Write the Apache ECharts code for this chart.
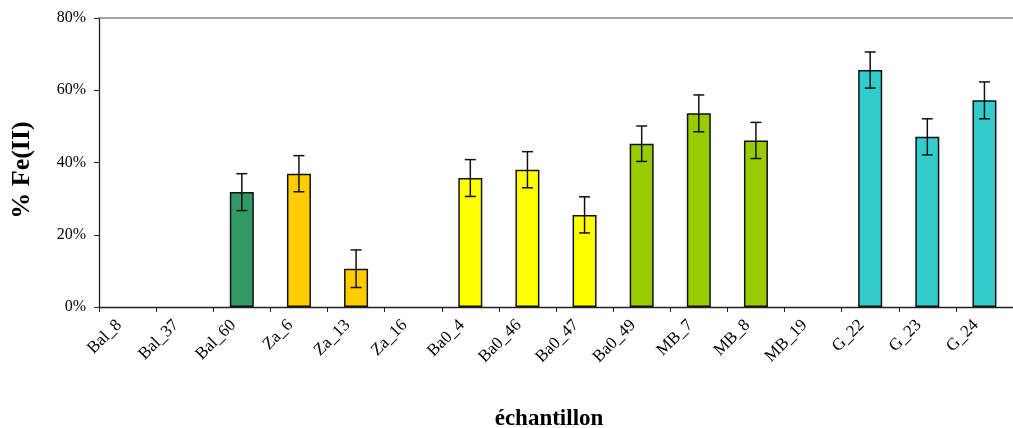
<!DOCTYPE html>
<html>
<head>
<meta charset="utf-8">
<script src="https://cdn.jsdelivr.net/npm/echarts@6/dist/echarts.min.js"></script>
<style>
html,body{margin:0;padding:0;background:#fff;overflow:hidden;}
#chart{width:1013px;height:428px;}
</style>
</head>
<body>
<div id="chart"></div>
<script>
const categories = ['Bal_8','Bal_37','Bal_60','Za_6','Za_13','Za_16','Ba0_4','Ba0_46','Ba0_47','Ba0_49','MB_7','MB_8','MB_19','G_22','G_23','G_24'];
const values = [null, null, 31.8, 36.9, 10.6, null, 35.7, 38.0, 25.5, 45.2, 53.6, 46.1, null, 65.6, 47.1, 57.2];
const errors = [null, null, 5.1, 5.0, 5.2, null, 5.1, 5.0, 5.0, 4.9, 5.1, 5.0, null, 5.0, 5.0, 5.1];
const barColors = ['#339966','#339966','#339966','#FFCC00','#FFCC00','#FFCC00','#FFFF00','#FFFF00','#FFFF00','#99CC00','#99CC00','#99CC00','#99CC00','#33CCCC','#33CCCC','#33CCCC'];
const yTicks = [0, 20, 40, 60, 80];
const yTitle = '% Fe(II)';
const xTitle = 'échantillon';

const FONT = '"Liberation Serif", "Times New Roman", serif';

const barData = values.map((v, i) => v == null ? null : { value: v, itemStyle: { color: barColors[i] } });
const errData = [];
values.forEach((v, i) => { if (v != null) errData.push([i, v - errors[i], v + errors[i]]); });

const chart = echarts.init(document.getElementById('chart'), null, { renderer: 'canvas' });
chart.setOption({
  animation: false,
  backgroundColor: '#fff',
  grid: { left: 99, top: 18, width: 922, height: 289, containLabel: false },
  xAxis: [{
    type: 'category',
    data: categories,
    position: 'bottom',
    axisLine: { lineStyle: { color: '#222', width: 1.3 } },
    axisTick: { show: true, alignWithLabel: false, length: 5, lineStyle: { color: '#222' } },
    axisLabel: { rotate: 45, interval: 0, margin: 7, fontSize: 17, fontFamily: FONT, color: '#000', padding: [0, 12, 0, 0] },
    splitLine: { show: false }
  }, {
    type: 'category',
    data: categories,
    position: 'top',
    axisLine: { lineStyle: { color: '#888', width: 1.5 } },
    axisTick: { show: false },
    axisLabel: { show: false },
    splitLine: { show: false }
  }],
  yAxis: {
    type: 'value',
    min: yTicks[0],
    max: yTicks[yTicks.length - 1],
    interval: yTicks[1] - yTicks[0],
    axisLine: { show: true, lineStyle: { color: '#222', width: 1.3 } },
    axisTick: { show: true, length: 5, lineStyle: { color: '#222' } },
    axisLabel: { formatter: '{value}%', fontSize: 16, fontFamily: FONT, color: '#000', margin: 13 },
    splitLine: { show: false }
  },
  series: [{
    type: 'bar',
    data: barData,
    barWidth: '42%',
    itemStyle: { borderColor: '#111', borderWidth: 1.5 }
  }, {
    type: 'custom',
    data: errData,
    z: 5,
    renderItem: function (params, api) {
      const x = api.value(0);
      const lo = api.coord([x, api.value(1)]);
      const hi = api.coord([x, api.value(2)]);
      const hw = 5.5;
      const st = { stroke: '#111', lineWidth: 1.5 };
      return {
        type: 'group',
        children: [
          { type: 'line', shape: { x1: lo[0], y1: lo[1], x2: hi[0], y2: hi[1] }, style: st },
          { type: 'line', shape: { x1: hi[0] - hw, y1: hi[1], x2: hi[0] + hw, y2: hi[1] }, style: st },
          { type: 'line', shape: { x1: lo[0] - hw, y1: lo[1], x2: lo[0] + hw, y2: lo[1] }, style: st }
        ]
      };
    }
  }],
  graphic: [{
    type: 'text',
    x: 22, y: 170,
    rotation: Math.PI / 2,
    style: { text: yTitle, font: 'bold 26px ' + FONT, fill: '#000', textAlign: 'center', textVerticalAlign: 'middle' }
  }, {
    type: 'text',
    x: 549, y: 419,
    style: { text: xTitle, font: 'bold 23px ' + FONT, fill: '#000', textAlign: 'center', textVerticalAlign: 'middle' }
  }]
});
</script>
</body>
</html>
